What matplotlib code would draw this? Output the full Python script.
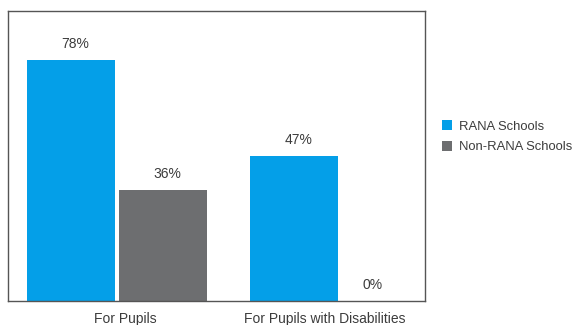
import numpy as np
import matplotlib.pyplot as plt

plt.rcParams['font.family'] = ['Liberation Sans', 'DejaVu Sans']

groups = ['For Pupils', 'For Pupils with Disabilities']
rana = [78, 47]
non_rana = [36, 0]
series_names = ['RANA Schools', 'Non-RANA Schools']

blue = '#049fe8'
grey = '#6d6e70'
text_col = '#3c3c3c'

fig = plt.figure(figsize=(5.79, 3.25), dpi=100)
ax = fig.add_axes([8 / 579, 1 - 301 / 325, 417 / 579, 290 / 325])

w = 1.0
step = 92 / 88
pos = np.array([0.0, 2.534])

b1 = ax.bar(pos, rana, width=w, color=blue, label=series_names[0])
b2 = ax.bar(pos + step, non_rana, width=w, color=grey, label=series_names[1])

for bars, vals in ((b1, rana), (b2, non_rana)):
    for rect, v in zip(bars, vals):
        dx = 3 if v else -10
        ax.annotate(f'{v}%', (rect.get_x() + rect.get_width() / 2, v),
                    xytext=(dx, 6.5), textcoords='offset points',
                    ha='center', va='bottom', fontsize=10, color=text_col)

ax.set_xlim(-0.716, -0.716 + 417 / 88)
ax.set_ylim(0, 94)
ax.set_yticks([])
ax.set_xticks([(125 - 71) / 88, (325 - 71) / 88])
ax.set_xticklabels(groups, fontsize=10, color=text_col)
ax.tick_params(axis='x', length=0, pad=8)
for s in ax.spines.values():
    s.set_color('#555555')
    s.set_linewidth(1.0)

leg = fig.legend(handles=[b1, b2], loc='upper left', bbox_to_anchor=(437 / 579, 1 - 115 / 325),
                 frameon=False, fontsize=9.4, handlelength=0.75, handleheight=0.75,
                 handletextpad=0.55, labelspacing=0.65, borderaxespad=0)
for t in leg.get_texts():
    t.set_color(text_col)

fig.savefig('out.png', dpi=100)
